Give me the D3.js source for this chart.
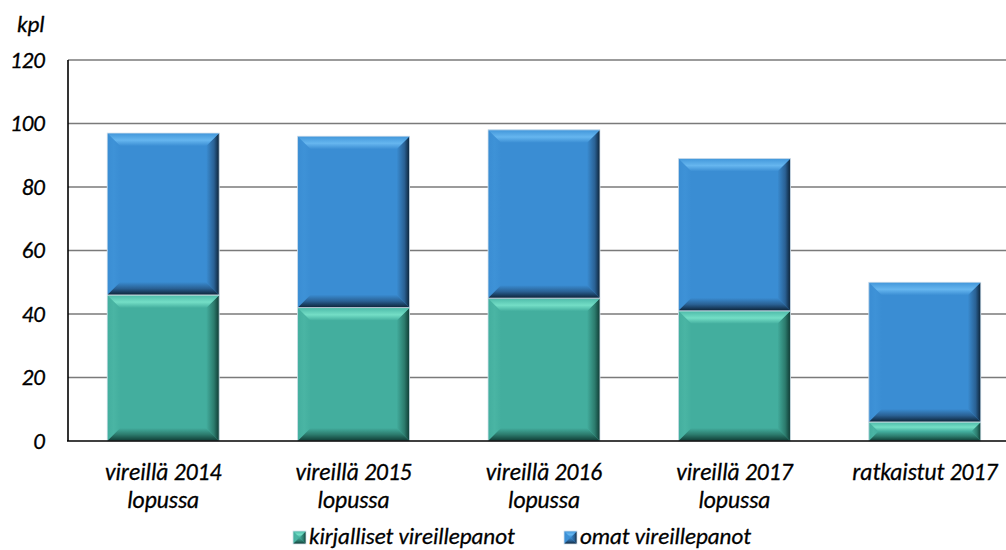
<!DOCTYPE html>
<html><head><meta charset="utf-8">
<script src="https://cdn.jsdelivr.net/npm/d3@7"></script>
<style>
html,body{margin:0;padding:0;background:#fff;}
svg{display:block;}
text{font-family:Carlito,Calibri,"Open Sans",sans-serif;font-style:italic;fill:#000;stroke:#000;stroke-width:0.3px;}
</style></head>
<body>
<svg id="c" width="1006" height="550"></svg>
<script>
const categories = [["vireillä 2014","lopussa"],["vireillä 2015","lopussa"],["vireillä 2016","lopussa"],["vireillä 2017","lopussa"],["ratkaistut 2017"]];
const kirjalliset = [46, 42, 45, 41, 6];
const omat = [51, 54, 53, 48, 44];
const yTicks = [0,20,40,60,80,100,120];
const seriesNames = ["kirjalliset vireillepanot","omat vireillepanot"];
const unitLabel = "kpl";

const svg = d3.select("#c");
const keys = categories.map((c,i)=>"c"+i);
const x = d3.scaleBand().domain(keys).range([68,1020]).paddingInner(0.412).paddingOuter(0.206);
const y = d3.scaleLinear().domain([0,120]).range([441,60]);

const pal = [
  {id:"g", base:"#43AE9E", light:"#74DEC6", top:"#4CB9A8", bottom:"#2C7B6D", dark:"#0F3A33", left:"#4AB5A4"},
  {id:"b", base:"#3A8DD3", light:"#66B6EF", top:"#4196DA", bottom:"#2A6194", dark:"#0C2236", left:"#3E92D7"}
];
const defs = svg.append("defs");
pal.forEach(p=>{
  const t = defs.append("linearGradient").attr("id",p.id+"T").attr("x1",0).attr("y1",0).attr("x2",0).attr("y2",1);
  t.append("stop").attr("offset",0).attr("stop-color",p.top);
  t.append("stop").attr("offset",0.55).attr("stop-color",p.light);
  t.append("stop").attr("offset",1).attr("stop-color",p.base);
  const b = defs.append("linearGradient").attr("id",p.id+"B").attr("x1",0).attr("y1",0).attr("x2",0).attr("y2",1);
  b.append("stop").attr("offset",0).attr("stop-color",p.base);
  b.append("stop").attr("offset",0.5).attr("stop-color",p.bottom);
  b.append("stop").attr("offset",1).attr("stop-color",p.dark);
  const r = defs.append("linearGradient").attr("id",p.id+"R").attr("x1",0).attr("y1",0).attr("x2",1).attr("y2",0);
  r.append("stop").attr("offset",0).attr("stop-color",p.base);
  r.append("stop").attr("offset",0.6).attr("stop-color",p.bottom);
  r.append("stop").attr("offset",1).attr("stop-color",p.dark);
  const l = defs.append("linearGradient").attr("id",p.id+"L").attr("x1",0).attr("y1",0).attr("x2",1).attr("y2",0);
  l.append("stop").attr("offset",0).attr("stop-color",p.base);
  l.append("stop").attr("offset",0.5).attr("stop-color",p.left);
  l.append("stop").attr("offset",1).attr("stop-color",p.base);
});

function bevelRect(g, x0, y0, w, h, p, bmax){
  const b = Math.min(bmax, h/2, w/2);
  const gg = g.append("g");
  gg.append("rect").attr("x",x0).attr("y",y0).attr("width",w).attr("height",h).attr("fill",p.base);
  const poly = (pts,fill)=>gg.append("polygon").attr("points",pts.map(q=>q.join(",")).join(" ")).attr("fill",fill);
  poly([[x0,y0],[x0+b,y0+b],[x0+b,y0+h-b],[x0,y0+h]],`url(#${p.id}L)`);
  poly([[x0+w,y0],[x0+w-b,y0+b],[x0+w-b,y0+h-b],[x0+w,y0+h]],`url(#${p.id}R)`);
  poly([[x0,y0+h],[x0+w,y0+h],[x0+w-b,y0+h-b],[x0+b,y0+h-b]],`url(#${p.id}B)`);
  poly([[x0,y0],[x0+w,y0],[x0+w-b,y0+b],[x0+b,y0+b]],`url(#${p.id}T)`);
  gg.append("rect").attr("x",x0).attr("y",y0).attr("width",w).attr("height",h).attr("fill","none").attr("stroke","#d6e2ec").attr("stroke-width",0.8);
}

// gridlines
svg.append("g").selectAll("line").data(yTicks.filter(d=>d>0)).join("line")
  .attr("x1",68).attr("x2",1020).attr("y1",d=>y(d)).attr("y2",d=>y(d))
  .attr("stroke","#7a7a7a").attr("stroke-width",1.6);

// y tick labels
svg.append("g").selectAll("text").data(yTicks).join("text")
  .attr("x",45).attr("y",d=>y(d)).attr("dy","0.34em").attr("text-anchor","end")
  .style("font-size","23px").text(d=>d);
svg.append("text").attr("x",17).attr("y",32).style("font-size","23px").text(unitLabel);

// bars
const bars = svg.append("g");
keys.forEach((k,i)=>{
  const x0 = x(k), w = x.bandwidth();
  bevelRect(bars, x0, y(kirjalliset[i]), w, y(0)-y(kirjalliset[i]), pal[0], 13);
  const top = kirjalliset[i]+omat[i];
  bevelRect(bars, x0, y(top), w, y(kirjalliset[i])-y(top), pal[1], 13);
});

// axes lines
svg.append("line").attr("x1",68).attr("x2",68).attr("y1",60).attr("y2",441).attr("stroke","#000").attr("stroke-width",1.6);
svg.append("line").attr("x1",67).attr("x2",1020).attr("y1",441).attr("y2",441).attr("stroke","#000").attr("stroke-width",1.6);

// category labels
const cl = svg.append("g").selectAll("text").data(keys).join("text")
  .attr("x",k=>x(k)+x.bandwidth()/2).attr("y",480).attr("text-anchor","middle").style("font-size","23.5px");
cl.each(function(k,i){
  categories[i].forEach((line,j)=>{
    d3.select(this).append("tspan").attr("x",x(k)+x.bandwidth()/2).attr("dy",j===0?0:28).text(line);
  });
});

// legend
const legX = [293, 564];
seriesNames.forEach((n,i)=>{
  bevelRect(svg, legX[i], 531, 13, 13, pal[i], 7);
  svg.append("text").attr("x",legX[i]+16).attr("y",544).style("font-size","23px").text(n);
});
</script>
</body></html>
